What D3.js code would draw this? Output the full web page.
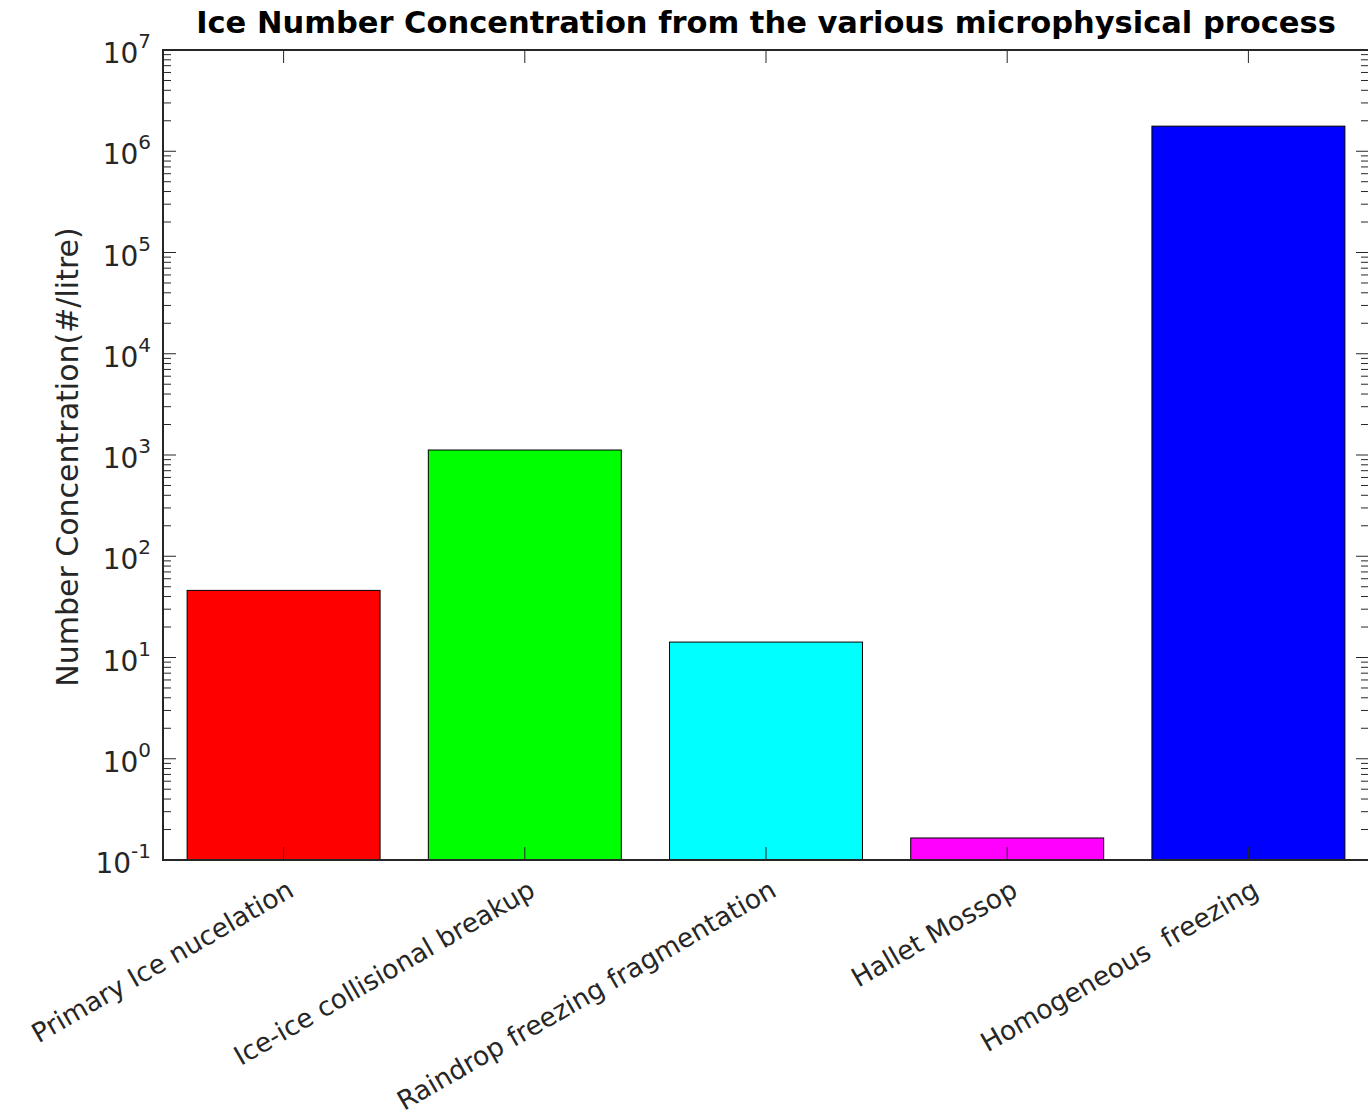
<!DOCTYPE html>
<html>
<head>
<meta charset="utf-8">
<script src="https://cdn.jsdelivr.net/npm/d3@7"></script>
<style>
  body { margin: 0; background: #fff; }
  svg text { font-family: "DejaVu Sans", sans-serif; }
</style>
</head>
<body>
<div id="chart"></div>
<script>
// chart data
const processes = [
  "Primary Ice nucelation",
  "Ice-ice collisional breakup",
  "Raindrop freezing fragmentation",
  "Hallet Mossop",
  "Homogeneous  freezing"
];
const concentrations = [46, 1120, 14.2, 0.165, 1.77e6];
const barColors = ["#ff0000", "#00ff00", "#00ffff", "#ff00ff", "#0000ff"];
const yExponents = [-1, 0, 1, 2, 3, 4, 5, 6, 7];

const W = 1368, H = 1120;
const margin = {top: 50, right: -1, bottom: 260, left: 163};
const width = W - margin.left - margin.right,
      height = H - margin.top - margin.bottom;

const svg = d3.select("#chart")
  .append("svg")
    .attr("width", W)
    .attr("height", H);

const g = svg.append("g")
  .attr("transform", `translate(${margin.left},${margin.top})`);

// x: categories 1..5 with limits 0.5..5.5 like the original plot
const x = d3.scaleLinear()
  .domain([0.5, processes.length + 0.5])
  .range([0, width]);
const barW = 0.8 * (x(2) - x(1));

const y = d3.scaleLog()
  .domain([0.1, 1e7])
  .range([height, 0]);

// bars
g.selectAll(".bar")
  .data(concentrations)
  .join("rect")
    .attr("class", "bar")
    .attr("x", (d, i) => x(i + 1) - barW / 2)
    .attr("y", d => y(d))
    .attr("width", barW)
    .attr("height", d => height - y(d))
    .attr("fill", (d, i) => barColors[i])
    .attr("stroke", "#000")
    .attr("stroke-width", 1);

// box lines
const axisCol = "#262626";
g.append("rect")
  .attr("x", 0).attr("y", 0)
  .attr("width", width).attr("height", height)
  .attr("fill", "none")
  .attr("stroke", axisCol)
  .attr("stroke-width", 1.2)
  .style("shape-rendering", "crispEdges");

// log ticks, left and right, pointing inward
const minorVals = [];
yExponents.slice(0, -1).forEach(e => {
  for (let m = 2; m <= 9; m++) minorVals.push(m * Math.pow(10, e));
});
const majorVals = yExponents.map(e => Math.pow(10, e));

[0, width].forEach((xx, side) => {
  const dir = side === 0 ? 1 : -1;
  g.selectAll(null)
    .data(majorVals)
    .join("line")
      .attr("x1", xx).attr("x2", xx + dir * 13)
      .attr("y1", d => y(d)).attr("y2", d => y(d))
      .attr("stroke", axisCol);
  g.selectAll(null)
    .data(minorVals)
    .join("line")
      .attr("x1", xx).attr("x2", xx + dir * 8)
      .attr("y1", d => y(d)).attr("y2", d => y(d))
      .attr("stroke", axisCol);
});

// x ticks top and bottom
g.selectAll(null)
  .data(processes)
  .join("line")
    .attr("x1", (d, i) => x(i + 1)).attr("x2", (d, i) => x(i + 1))
    .attr("y1", 0).attr("y2", 13)
    .attr("stroke", axisCol);
g.selectAll(null)
  .data(processes)
  .join("line")
    .attr("x1", (d, i) => x(i + 1)).attr("x2", (d, i) => x(i + 1))
    .attr("y1", height).attr("y2", height - 13)
    .attr("stroke", axisCol);

// y tick labels 10^n
const yLab = g.selectAll(".ylab")
  .data(yExponents)
  .join("text")
    .attr("class", "ylab")
    .attr("x", -12)
    .attr("y", d => y(Math.pow(10, d)) + 13)
    .attr("text-anchor", "end")
    .style("font-size", "28px")
    .style("fill", axisCol);
yLab.append("tspan").text("10");
yLab.append("tspan")
  .attr("dy", -15)
  .style("font-size", "20px")
  .text(d => d);

// x tick labels rotated
g.selectAll(".xlab")
  .data(processes)
  .join("text")
    .attr("class", "xlab")
    .attr("transform", (d, i) => `translate(${x(i + 1) + 12},${height + 35}) rotate(-30)`)
    .attr("text-anchor", "end")
    .style("font-size", "26.5px")
    .style("white-space", "pre")
    .style("fill", axisCol)
    .text(d => d);

// y axis title
g.append("text")
  .attr("transform", `translate(${-85},${height / 2 + 2}) rotate(-90)`)
  .attr("text-anchor", "middle")
  .style("font-size", "30px")
  .style("fill", axisCol)
  .text("Number Concentration(#/litre)");

// chart title
svg.append("text")
  .attr("x", margin.left + width / 2)
  .attr("y", 33)
  .attr("text-anchor", "middle")
  .style("font-size", "30.5px")
  .style("font-weight", "bold")
  .style("fill", "#000")
  .text("Ice Number Concentration from the various microphysical process");
</script>
</body>
</html>
